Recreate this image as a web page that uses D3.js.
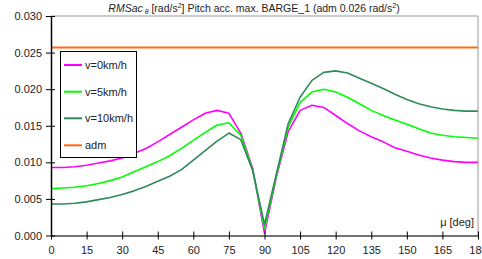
<!DOCTYPE html>
<html><head><meta charset="utf-8">
<script src="https://cdn.jsdelivr.net/npm/d3@7"></script>
<style>body{margin:0;background:#fff;overflow:hidden}svg{display:block}text{font-family:"Liberation Sans",Arial,sans-serif}</style>
</head><body><svg id="c" width="482" height="259"></svg>
<script>
const headings = [0,5,10,15,20,25,30,35,40,45,50,55,60,65,70,75,80,85,90,95,100,105,110,115,120,125,130,135,140,145,150,155,160,165,170,175,180];
const v0 = [0.0093,0.0093,0.0094,0.0096,0.0099,0.0102,0.0106,0.0112,0.0119,0.0128,0.0138,0.0148,0.0158,0.0167,0.0171,0.0167,0.0140,0.0092,0.0003,0.0080,0.0142,0.0171,0.0178,0.0175,0.0164,0.0153,0.0143,0.0135,0.0128,0.0120,0.0115,0.0110,0.0106,0.0103,0.0101,0.0100,0.0100];
const v5 = [0.0064,0.0065,0.0066,0.0068,0.0071,0.0075,0.0080,0.0087,0.0094,0.0101,0.0109,0.0119,0.0130,0.0141,0.0151,0.0154,0.0137,0.0090,0.0009,0.0082,0.0148,0.0182,0.0196,0.0200,0.0196,0.0189,0.0180,0.0171,0.0164,0.0158,0.0152,0.0146,0.0140,0.0137,0.0135,0.0134,0.0133];
const v10 = [0.0043,0.0043,0.0044,0.0046,0.0049,0.0052,0.0056,0.0061,0.0067,0.0074,0.0081,0.0090,0.0103,0.0116,0.0129,0.0140,0.0131,0.0089,0.0015,0.0084,0.0153,0.0189,0.0212,0.0223,0.0225,0.0222,0.0215,0.0208,0.0201,0.0193,0.0186,0.0180,0.0176,0.0173,0.0171,0.0170,0.0170];
const admValue = 0.0257;
const xTicks = [0,15,30,45,60,75,90,105,120,135,150,165,180];
const yTicks = [0,0.005,0.010,0.015,0.020,0.025,0.030];
const seriesNames = ["v=0km/h","v=5km/h","v=10km/h","adm"];
const seriesColors = ["#ff00ff","#00ff00","#2e8b57","#ff6a13"];

const svg = d3.select("#c");
const L=51,R=478,T=16,B=235.5;
const x = d3.scaleLinear().domain([0,180]).range([L,R]);
const y = d3.scaleLinear().domain([0,0.03]).range([B,T]);

// frame (top/right)
svg.append("path").attr("d",`M${L},${T}H${R}V${B}`).attr("fill","none").attr("stroke","#999").attr("stroke-width",1);

// adm line
svg.append("line").attr("x1",x(0)).attr("x2",x(180)).attr("y1",y(admValue)).attr("y2",y(admValue))
  .attr("stroke",seriesColors[3]).attr("stroke-width",2);

const line = d3.line().x((d,i)=>x(headings[i])).y(d=>y(d));
[v0,v5,v10].forEach((s,k)=>{
  svg.append("path").datum(s).attr("d",line).attr("fill","none")
    .attr("stroke",seriesColors[k]).attr("stroke-width",1.6).attr("stroke-linejoin","round");
});

// axes
const xAxis = svg.append("g").attr("transform",`translate(0,${B})`)
  .call(d3.axisBottom(x).tickValues(xTicks).tickFormat(d3.format("d")).tickSize(4).tickSizeOuter(0));
xAxis.select(".domain").attr("stroke","#444").attr("stroke-width",1.5);
xAxis.selectAll(".tick line").attr("y1",-4).attr("y2",4).attr("stroke","#000");
xAxis.selectAll(".tick text").attr("y",11).attr("font-size",11).attr("fill","#222");

const yAxis = svg.append("g").attr("transform",`translate(${L},0)`)
  .call(d3.axisLeft(y).tickValues(yTicks).tickFormat(d3.format(".3f")).tickSize(5).tickSizeOuter(0));
yAxis.select(".domain").attr("stroke","#000").attr("stroke-width",1.5);
yAxis.selectAll(".tick line").attr("x1",-5).attr("x2",4).attr("stroke","#000");
yAxis.selectAll(".tick text").attr("x",-9).attr("font-size",11).attr("fill","#222");

// axis label
svg.append("text").attr("x",474).attr("y",226).attr("text-anchor","end").attr("font-size",11).attr("fill","#222").text("μ [deg]");

// title
const t = svg.append("text").attr("x",254).attr("y",12).attr("text-anchor","middle").attr("font-size",10.5).attr("fill","#222");
t.append("tspan").attr("font-style","italic").text("RMSac");
t.append("tspan").attr("font-style","italic").attr("font-size",7).attr("dy",2).text(" θ");
t.append("tspan").attr("dy",-2).text(" [rad/s");
t.append("tspan").attr("font-size",7).attr("dy",-4).text("2");
t.append("tspan").attr("dy",4).text("] Pitch acc. max. BARGE_1 (adm 0.026 rad/s");
t.append("tspan").attr("font-size",7).attr("dy",-4).text("2");
t.append("tspan").attr("dy",4).text(")");

// legend
const lg = svg.append("g");
lg.append("rect").attr("x",60.5).attr("y",51.5).attr("width",76).attr("height",106).attr("fill","#fff").attr("stroke","#000").attr("stroke-width",1);
const ly = [65,91.7,118.3,145.3];
seriesNames.forEach((n,i)=>{
  lg.append("line").attr("x1",64).attr("x2",82).attr("y1",ly[i]).attr("y2",ly[i]).attr("stroke",seriesColors[i]).attr("stroke-width",2);
  lg.append("text").attr("x",85).attr("y",ly[i]+4).attr("font-size",11).attr("fill","#222").text(n);
});
</script></body></html>
